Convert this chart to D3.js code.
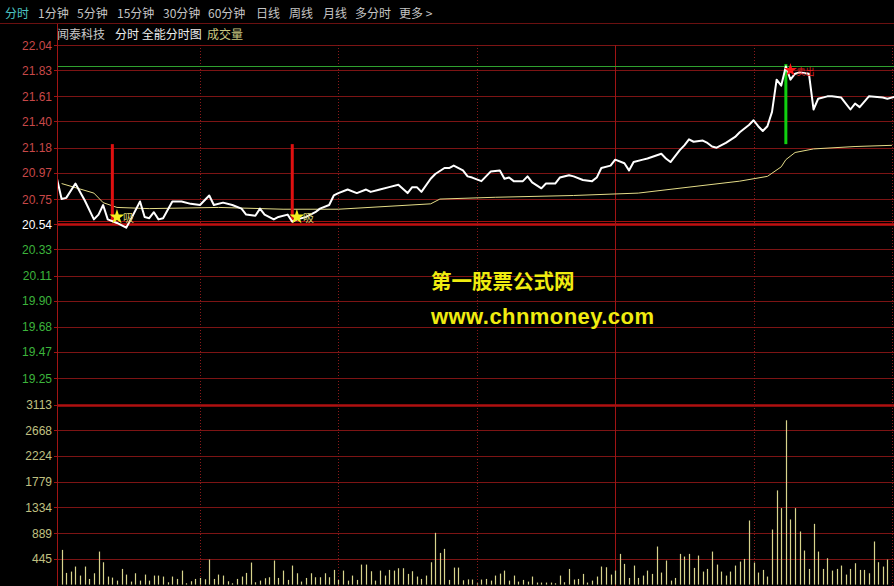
<!DOCTYPE html>
<html><head><meta charset="utf-8">
<script src="https://cdn.jsdelivr.net/npm/d3@7"></script>
<style>html,body{margin:0;padding:0;background:#000;}svg{display:block;}</style>
</head><body>
<svg id="c" width="894" height="586"></svg>
<script>
// ---------- data ----------
const tabs = ["分时","1分钟","5分钟","15分钟","30分钟","60分钟","日线","周线","月线","多分时","更多 >"];
const titleParts = ["闻泰科技","分时 全能分时图","成交量"];
const priceTicks = [22.04,21.83,21.61,21.40,21.18,20.97,20.75,20.54,20.33,20.11,19.90,19.68,19.47,19.25];
const volumeTicks = [3113,2668,2224,1779,1334,889,445];
const prevClose = 20.54;
const dayHigh = 21.86;
const refLevel = 20.57;
const timeGrid = [31,61,91,121,151,181];   // 10:00 10:30 11:00 11:30 13:30 14:00
const priceMinutes = [0,1,2,4,5,6,8,9,10,11,13,15,16,18,19,20,21,22,23,25,27,29,31,33,34,36,38,40,41,43,44,45,47,48,50,51,52,54,56,57,59,60,61,63,65,67,68,70,72,74,76,77,78,79,81,82,84,85,86,88,89,90,92,94,96,97,98,99,101,102,103,105,106,108,109,111,112,114,116,117,118,120,121,123,124,125,127,128,131,132,133,135,136,137,138,140,141,142,143,145,147,148,150,151,152,153,154,155,156,157,158,159,160,161,163,164,165,167,168,170,171,172,173,174,176,179,180,182];
const priceValues = [20.92,20.75,20.76,20.88,20.81,20.74,20.58,20.62,20.70,20.58,20.55,20.51,20.58,20.73,20.60,20.59,20.64,20.58,20.59,20.73,20.73,20.71,20.70,20.78,20.70,20.72,20.70,20.67,20.62,20.61,20.67,20.62,20.58,20.60,20.62,20.56,20.58,20.60,20.64,20.67,20.70,20.78,20.80,20.83,20.80,20.83,20.81,20.83,20.85,20.87,20.80,20.85,20.85,20.81,20.92,20.96,21.01,21.01,21.03,20.99,20.94,20.93,20.90,20.98,20.99,20.92,20.93,20.90,20.90,20.94,20.89,20.84,20.88,20.88,20.93,20.95,20.94,20.91,20.90,20.93,21.01,21.03,21.08,21.05,20.99,21.06,21.08,21.09,21.13,21.09,21.06,21.16,21.20,21.25,21.23,21.24,21.22,21.19,21.18,21.22,21.27,21.31,21.37,21.41,21.36,21.32,21.36,21.48,21.75,21.70,21.86,21.75,21.80,21.81,21.80,21.50,21.59,21.61,21.61,21.60,21.55,21.50,21.55,21.52,21.61,21.60,21.59,21.61];
const avgMinutes = [1,8,10,13,20,35,49,61,81,83,95,112,126,148,154,157,158,160,164,173,181];
const avgValues = [20.88,20.80,20.72,20.68,20.67,20.68,20.665,20.665,20.71,20.75,20.765,20.78,20.80,20.90,20.94,21.02,21.08,21.14,21.17,21.19,21.20];
const volStart = 1;
const volumes = [600,202,225,312,156,312,98,196,571,386,139,121,69,271,173,52,196,69,173,69,156,156,139,40,139,98,242,23,58,98,115,92,433,98,173,156,58,23,98,139,202,381,40,69,110,127,416,115,242,81,329,196,52,115,196,127,127,196,127,254,81,242,69,156,81,346,346,231,69,242,156,254,242,283,283,185,231,139,98,156,386,895,548,618,81,294,294,75,90,87,23,87,98,69,156,190,242,69,156,52,81,52,139,35,35,35,35,23,156,40,271,87,98,185,35,69,139,312,300,173,242,531,358,115,329,115,156,242,185,658,208,416,69,115,531,485,531,289,502,225,271,571,346,225,156,225,329,398,444,1108,381,208,254,139,952,1628,1322,2840,1126,1322,918,589,271,1050,571,271,456,242,271,329,173,271,369,254,254,196,745,387,312,433];
const signalMinutes = [12,51,158];
const signalTypes = ["buy","buy","sell"];
const signalLow = [20.56,20.56,21.21];
const signalHigh = [21.21,21.21,21.88];
const markMinutes = [13,52,159];
const markPrices = [20.60,20.60,21.83];
const markTexts = ["吸","吸","卖出"];
const watermark = ["第一股票公式网","www.chnmoney.com"];

// ---------- layout ----------
const W = 894, H = 586;
const left = 57;
const svg = d3.select("#c");
svg.append("rect").attr("width",W).attr("height",H).attr("fill","#000");

const x = d3.scaleLinear().domain([0,241]).range([left, left + 241*4.613]);
const y = d3.scaleLinear().domain([19.04,22.04]).range([403.3,45]);
const yv = d3.scaleLinear().domain([0,3113]).range([584.6,404.5]);

const gridCol = "#7c1414";
const font = "'Liberation Sans', Arial, sans-serif";
const cjk = "'Noto Sans CJK SC', 'Noto Sans', sans-serif";

// tabs
const tabX = [5,38,77,117,163,208,256,289,323,355,399];
svg.append("g").selectAll("text").data(tabs).join("text")
  .attr("x",(d,i)=>tabX[i]).attr("y",17.5)
  .attr("font-family",cjk).attr("font-size",12)
  .attr("fill",(d,i)=> i===0 ? "#4cc4c4" : "#c4c4c4")
  .text(d=>d);
svg.append("line").attr("x1",0).attr("x2",W).attr("y1",23.5).attr("y2",23.5).attr("stroke","#6a1010").attr("stroke-width",1);

// title row
const titleX = [57,115,207];
const titleCol = ["#c8c8c8","#ececec","#c8c880"];
svg.append("g").selectAll("text").data(titleParts).join("text")
  .attr("x",(d,i)=>titleX[i]).attr("y",39)
  .attr("font-family",cjk).attr("font-size",12)
  .attr("fill",(d,i)=>titleCol[i]).text(d=>d);

// clip for plot
svg.append("clipPath").attr("id","plot").append("rect").attr("x",left+1).attr("y",40).attr("width",W-left-1).attr("height",H-40);
const g = svg.append("g").attr("clip-path","url(#plot)");

// horizontal grid - price
g.selectAll("line.hp").data(priceTicks).join("line").attr("class","hp")
  .attr("x1",left).attr("x2",W).attr("y1",d=>Math.round(y(d))+0.5).attr("y2",d=>Math.round(y(d))+0.5)
  .attr("stroke",d=> d===prevClose ? "#c01010" : gridCol)
  .attr("stroke-width",d=> d===prevClose ? 2.5 : 1);
g.append("line").attr("x1",left).attr("x2",W).attr("y1",Math.round(y(refLevel))+0.5).attr("y2",Math.round(y(refLevel))+0.5)
  .attr("stroke","#a01010").attr("stroke-width",1);
// horizontal grid - volume
g.selectAll("line.hv").data(volumeTicks).join("line").attr("class","hv")
  .attr("x1",left).attr("x2",W).attr("y1",d=>Math.round(yv(d))+0.5).attr("y2",d=>Math.round(yv(d))+0.5)
  .attr("stroke",(d,i)=> i===0 ? "#b01010" : gridCol)
  .attr("stroke-width",(d,i)=> i===0 ? 2.5 : 1);

// vertical time grid
g.selectAll("line.vt").data(timeGrid).join("line").attr("class","vt")
  .attr("x1",d=>Math.round(x(d))+0.5).attr("x2",d=>Math.round(x(d))+0.5)
  .attr("y1",45).attr("y2",H)
  .attr("stroke",d=> d===121 ? "#a01414" : "#8a1a1a")
  .attr("stroke-width",1)
  .attr("stroke-dasharray",d=> d===121 ? null : "1,2");

// day high line
g.append("line").attr("x1",left).attr("x2",W).attr("y1",Math.round(y(dayHigh))+0.5).attr("y2",Math.round(y(dayHigh))+0.5)
  .attr("stroke","#2fa02f").attr("stroke-width",1);

// watermark
svg.append("text").attr("x",431).attr("y",289).attr("font-family",cjk).attr("font-weight","bold")
  .attr("font-size",20.5).attr("fill","#f0ec10").text(watermark[0]);
svg.append("text").attr("x",431).attr("y",324).attr("font-family",font).attr("font-weight","bold")
  .attr("font-size",22).attr("fill","#f0ec10").attr("textLength",223).text(watermark[1]);

// volume bars
g.selectAll("line.vol").data(volumes).join("line").attr("class","vol")
  .attr("x1",(d,i)=>Math.round(x(i+volStart))+0.5).attr("x2",(d,i)=>Math.round(x(i+volStart))+0.5)
  .attr("y1",yv(0)).attr("y2",d=>yv(d))
  .attr("stroke","#d8d48c").attr("stroke-width",1.2);

// average line
const avgData = avgMinutes.map((m,i)=>[m,avgValues[i]]);
g.append("path").datum(avgData)
  .attr("d",d3.line().x(d=>x(d[0])).y(d=>y(d[1])))
  .attr("fill","none").attr("stroke","#e4dc88").attr("stroke-width",1);

// signal bars
signalMinutes.forEach((m,i)=>{
  g.append("line").attr("x1",x(m)).attr("x2",x(m)).attr("y1",y(signalLow[i])).attr("y2",y(signalHigh[i]))
   .attr("stroke",signalTypes[i]==="buy" ? "#e01010" : "#10d010").attr("stroke-width",3);
});

// price line
const priceData = priceMinutes.map((m,i)=>[m,priceValues[i]]);
g.append("path").datum(priceData)
  .attr("d",d3.line().x(d=>x(d[0])).y(d=>y(d[1])))
  .attr("fill","none").attr("stroke","#ffffff").attr("stroke-width",2).attr("stroke-linejoin","round");

// markers
markMinutes.forEach((m,i)=>{
  const isBuy = i<2;
  const col = isBuy ? "#f4f020" : "#ff1818";
  g.append("path").attr("d",d3.symbol(d3.symbolStar).size(isBuy?70:55)())
   .attr("transform",`translate(${x(m)},${y(markPrices[i])})`).attr("fill",col);
  g.append("text").attr("x",x(m)+6).attr("y",y(markPrices[i])+5)
   .attr("font-family",cjk).attr("font-size",isBuy?11:9)
   .attr("fill",isBuy?"#d8d070":"#e02020").text(markTexts[i]);
});

// left axis
svg.append("line").attr("x1",left+0.5).attr("x2",left+0.5).attr("y1",24).attr("y2",H).attr("stroke","#a01414");
svg.selectAll("line.tk").data(priceTicks).join("line").attr("class","tk")
  .attr("x1",left-3).attr("x2",left).attr("y1",d=>Math.round(y(d))+0.5).attr("y2",d=>Math.round(y(d))+0.5).attr("stroke","#a01414");
svg.selectAll("line.tkv").data(volumeTicks).join("line").attr("class","tkv")
  .attr("x1",left-3).attr("x2",left).attr("y1",d=>Math.round(yv(d))+0.5).attr("y2",d=>Math.round(yv(d))+0.5).attr("stroke","#a01414");
svg.selectAll("text.pl").data(priceTicks).join("text").attr("class","pl")
  .attr("x",52).attr("y",d=>y(d)+4.5).attr("text-anchor","end")
  .attr("font-family",font).attr("font-size",12)
  .attr("fill",d=> d>prevClose ? "#c84848" : (d===prevClose ? "#ffffff" : "#3cb43c"))
  .text(d=>d.toFixed(2));
svg.selectAll("text.vl").data(volumeTicks).join("text").attr("class","vl")
  .attr("x",52).attr("y",d=>yv(d)+4.5).attr("text-anchor","end")
  .attr("font-family",font).attr("font-size",12).attr("fill","#c0c080")
  .text(d=>d);
</script>
</body></html>
